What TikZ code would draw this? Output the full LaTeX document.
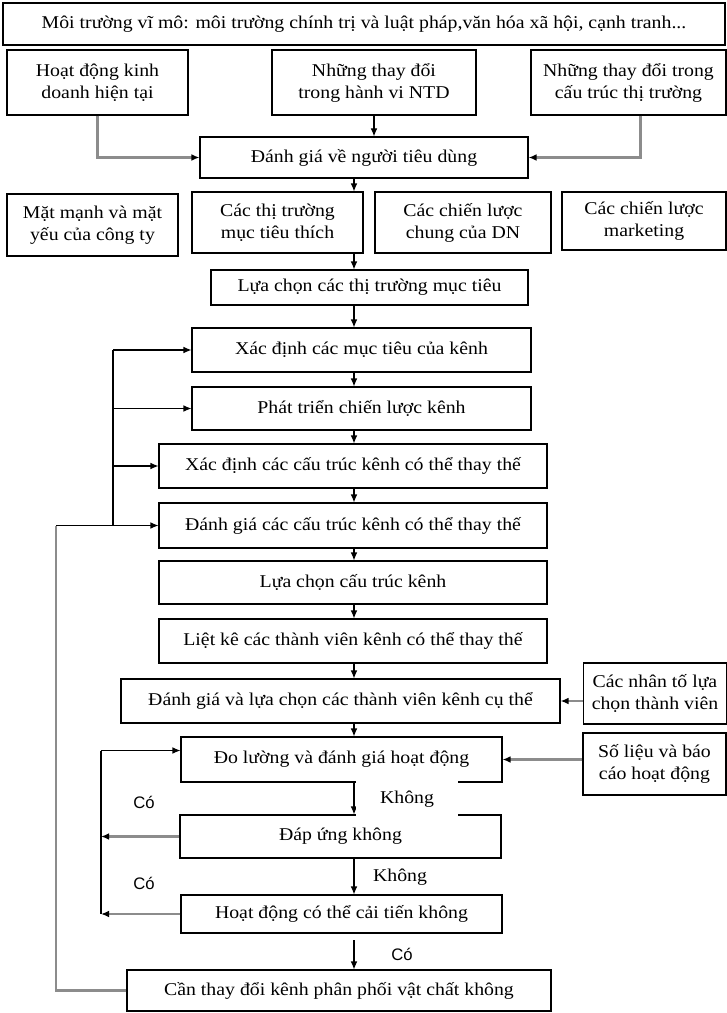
\documentclass[tikz,border=0pt]{standalone}
\usepackage{fontspec}
\setmainfont{Liberation Serif}[FakeStretch=1.1]
\newfontfamily\answerfont{Liberation Sans}
\usetikzlibrary{arrows.meta, positioning, calc}
\tikzstyle{box} = [draw=black, line width=0.8pt, inner sep=0pt, align=center,
font=\fontsize{13.5}{16.5}\selectfont]
\tikzstyle{link} = [draw=black, line width=0.8pt]
\tikzstyle{arrow} = [link, -{Latex[length=6pt,width=5pt]}]
\tikzstyle{greylink} = [draw=black!45, line width=1.6pt]
\tikzstyle{greyarrow} = [greylink, -{Latex[length=6pt,width=5pt,color=black]}]
\tikzstyle{yes} = [font=\answerfont\fontsize{12.5}{14}\selectfont]
\tikzstyle{no} = [font=\fontsize{13.5}{16}\selectfont]

\begin{document}
\begin{tikzpicture}[x=0.75pt, y=-0.75pt]
    \useasboundingbox (0,0) rectangle (727,1013);

    % environment and inputs
    \node[box, minimum width=541.5pt, minimum height=31.5pt] (env) at (364,24)
        {Môi trường vĩ mô: môi trường chính trị và luật pháp,văn hóa xã hội, cạnh tranh...};
    \node[box, minimum width=135.75pt, minimum height=48.75pt] (hd) at (97.5,82.5)
        {Hoạt động kinh\\doanh hiện tại};
    \node[box, minimum width=153pt, minimum height=48.75pt] (ntd) at (374,82.5)
        {Những thay đổi\\trong hành vi NTD};
    \node[box, minimum width=146.25pt, minimum height=48.75pt] (ctt) at (628.5,82.5)
        {Những thay đổi trong\\cấu trúc thị trường};
    \node[box, minimum width=246pt, minimum height=30.75pt] (dgntd) at (364,157.5)
        {Đánh giá về người tiêu dùng};

    \node[box, minimum width=128.25pt, minimum height=46.5pt] (mm) at (92.5,225)
        {Mặt mạnh và mặt\\yếu của công ty};
    \node[box, minimum width=128.25pt, minimum height=45.75pt] (tt) at (277.5,222.5)
        {Các thị trường\\mục tiêu thích};
    \node[box, minimum width=132pt, minimum height=45.75pt] (cl) at (463,222.5)
        {Các chiến lược\\chung của DN};
    \node[box, minimum width=123pt, minimum height=43.5pt] (mk) at (644,221)
        {Các chiến lược\\marketing};

    % main chain
    \node[box, minimum width=237.75pt, minimum height=26.25pt] (lc) at (369.5,287.5)
        {Lựa chọn các thị trường mục tiêu};
    \node[box, minimum width=254.25pt, minimum height=33pt] (xdmt) at (361.5,350)
        {Xác định các mục tiêu của kênh};
    \node[box, minimum width=254.25pt, minimum height=32.25pt] (pt) at (361.5,408.5)
        {Phát triển chiến lược kênh};
    \node[box, minimum width=291pt, minimum height=33pt] (xdct) at (353,466)
        {Xác định các cấu trúc kênh có thể thay thế};
    \node[box, minimum width=291pt, minimum height=33.75pt] (dgct) at (353,525.5)
        {Đánh giá các cấu trúc kênh có thể thay thế};
    \node[box, minimum width=291pt, minimum height=32.25pt] (lcct) at (353,582.5)
        {Lựa chọn cấu trúc kênh};
    \node[box, minimum width=291pt, minimum height=33pt] (lk) at (353,641)
        {Liệt kê các thành viên kênh có thể thay thế};
    \node[box, minimum width=329.25pt, minimum height=33pt] (dglc) at (340.5,701)
        {Đánh giá và lựa chọn các thành viên kênh cụ thể};
    \node[box, minimum width=107.25pt, minimum height=45.75pt] (nt) at (655,693.5)
        {Các nhân tố lựa\\chọn thành viên};
    \node[box, minimum width=240.75pt, minimum height=33.75pt] (dl) at (341.5,759.5)
        {Đo lường và đánh giá hoạt động};
    \node[box, minimum width=107.25pt, minimum height=46.5pt] (sl) at (654.5,764)
        {Số liệu và báo\\cáo hoạt động};
    \node[box, minimum width=240.75pt, minimum height=32.25pt] (du) at (340.5,836.5)
        {Đáp ứng không};
    \node[box, minimum width=240.75pt, minimum height=28.5pt] (hdct) at (341.5,914)
        {Hoạt động có thể cải tiến không};
    \node[box, minimum width=318pt, minimum height=30.75pt] (ctd) at (339,990.5)
        {Cần thay đổi kênh phân phối vật chất không};

    \coordinate (spine) at (354,0);
    \coordinate (loopA) at (113,0);
    \coordinate (loopB) at (101,0);
    \coordinate (outer) at (56,0);

    % inputs to the consumer analysis
    \draw[greyarrow] (hd.south) |- (dgntd.west);
    \draw[arrow] (ntd.south) -- (ntd.south |- dgntd.north);
    \draw[greyarrow] ([xshift=9pt]ctt.south) |- (dgntd.east);

    % downward chain
    \foreach \a/\b in {dgntd/tt, tt/lc, lc/xdmt, xdmt/pt, pt/xdct, xdct/dgct,
        dgct/lcct, lcct/lk, lk/dglc, dglc/dl, dl/du, du/hdct}
        \draw[arrow] (\a.south -| spine) -- (\b.north -| spine);
    \draw[arrow, shorten <=5pt] (hdct.south -| spine) -- (ctd.north -| spine);

    % side inputs
    \draw[greyarrow] (nt.west |- dglc) -- (dglc.east);
    \draw[greyarrow] (sl.west |- dl) -- (dl.east);

    % feedback to the channel design steps
    \draw[link] (loopA |- xdmt) -- (loopA |- dgct);
    \foreach \n in {xdmt, pt, xdct, dgct}
        \draw[arrow] (loopA |- \n) -- (\n.west);
    \draw[greylink] (ctd.west) -| (outer |- dgct);
    \draw[link] (outer |- dgct) -- (loopA |- dgct);

    % feedback to the evaluation
    \coordinate (ret) at ($(dl.west)+(0,-9)$);
    \draw[link] (loopB |- ret) -- (loopB |- hdct);
    \draw[arrow] (loopB |- ret) -- (ret);
    \draw[greyarrow] (du.west) -- (loopB |- du);
    \draw[greyarrow] (hdct.west) -- (loopB |- hdct);

    % answers
    \node[no, fill=white, minimum width=76.5pt, minimum height=30pt] (khong1) at (407,799) {Không};
    \node[no] (khong2) at (400,877) {Không};
    \node[yes] (co1) at (144,802) {Có};
    \node[yes] (co2) at (144,883) {Có};
    \node[yes] (co3) at (402,954) {Có};
\end{tikzpicture}
\end{document}
